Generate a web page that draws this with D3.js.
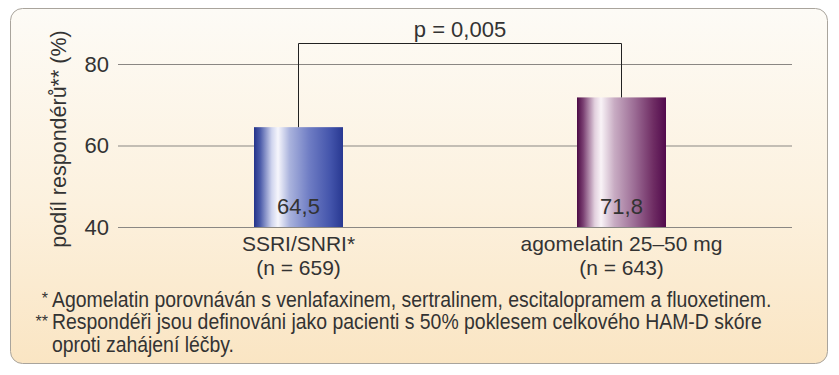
<!DOCTYPE html>
<html>
<head>
<meta charset="utf-8">
<script src="https://cdn.jsdelivr.net/npm/d3@7"></script>
<style>
  body { margin: 0; background: #fff; }
  text { font-family: "Liberation Sans", Arial, sans-serif; fill: #333; }
</style>
</head>
<body>
<div id="chart"></div>
<script>
// Data
var categories = ['SSRI/SNRI*', 'agomelatin 25–50 mg'];
var sampleSizes = ['(n = 659)', '(n = 643)'];
var responders = [64.5, 71.8];
var valueLabels = ['64,5', '71,8'];
var yTicks = [40, 60, 80];
var pValueLabel = 'p = 0,005';
var footnotes = [
  { mark: '*', lines: ['Agomelatin porovnáván s venlafaxinem, sertralinem, escitalopramem a fluoxetinem.'] },
  { mark: '**', lines: ['Respondéři jsou definováni jako pacienti s 50% poklesem celkového HAM-D skóre', 'oproti zahájení léčby.'] }
];

var width = 839, height = 375;

var svg = d3.select('#chart')
  .append('svg')
  .attr('width', width)
  .attr('height', height);

var defs = svg.append('defs');

// Background gradient
var bg = defs.append('linearGradient')
  .attr('id', 'bgGrad')
  .attr('x1', 0).attr('y1', 0).attr('x2', 0).attr('y2', 1);
bg.append('stop').attr('offset', '0%').attr('stop-color', '#fdfbf6');
bg.append('stop').attr('offset', '55%').attr('stop-color', '#fcf1de');
bg.append('stop').attr('offset', '100%').attr('stop-color', '#fae5c3');

// Bar gradients (shiny cylinder look)
var barStops = [
  [['0', '#24338a'], ['0.07', '#4b5ba9'], ['0.2', '#d0d5ee'], ['0.27', '#f6f6fc'], ['0.4', '#aab3dd'], ['0.62', '#6f7dc4'], ['0.86', '#4354ab'], ['1', '#283891']],
  [['0', '#4c0a45'], ['0.07', '#7a4072'], ['0.2', '#e2d0de'], ['0.27', '#f9f3f7'], ['0.42', '#c8acc3'], ['0.65', '#9b6b94'], ['0.86', '#6e2c63'], ['1', '#520a4d']]
];
barStops.forEach(function(stops, i) {
  var g = defs.append('linearGradient')
    .attr('id', 'barGrad' + i)
    .attr('x1', 0).attr('y1', 0).attr('x2', 1).attr('y2', 0);
  stops.forEach(function(s) {
    g.append('stop').attr('offset', s[0]).attr('stop-color', s[1]);
  });
});

// Rounded panel
svg.append('rect')
  .attr('x', 10.5)
  .attr('y', 8.5)
  .attr('width', 817)
  .attr('height', 355)
  .attr('rx', 12)
  .attr('fill', 'url(#bgGrad)')
  .attr('stroke', '#a9a49c')
  .attr('stroke-width', 1);

// Scales
var plotLeft = 118, plotRight = 792;
var y = d3.scaleLinear().domain([40, 80]).range([227, 64]);
var x = d3.scalePoint().domain(categories).range([298.5, 621.5]);
var barWidth = 89;

// Y axis with gridlines
var yAxis = svg.append('g')
  .attr('transform', 'translate(' + plotLeft + ',0)')
  .call(d3.axisLeft(y).tickValues(yTicks).tickSize(-(plotRight - plotLeft)).tickPadding(9));
yAxis.select('.domain').remove();
yAxis.selectAll('.tick line')
  .attr('stroke', '#8a8783')
  .attr('stroke-width', 1);
yAxis.selectAll('.tick text')
  .style('font-family', '"Liberation Sans", Arial, sans-serif')
  .style('font-size', '22px')
  .attr('fill', '#3a3a3a');

// Y title
svg.append('text')
  .attr('transform', 'translate(66,139) rotate(-90)')
  .attr('text-anchor', 'middle')
  .style('font-size', '21.5px')
  .text('podíl respondérů** (%)');

// Bars
svg.selectAll('.bar')
  .data(responders)
  .enter()
  .append('rect')
  .attr('class', 'bar')
  .attr('x', function(d, i) { return x(categories[i]) - barWidth / 2; })
  .attr('y', function(d) { return y(d); })
  .attr('width', barWidth)
  .attr('height', function(d) { return y(40) - y(d); })
  .attr('fill', function(d, i) { return 'url(#barGrad' + i + ')'; });

// Value labels inside bars
svg.selectAll('.val')
  .data(valueLabels)
  .enter()
  .append('text')
  .attr('class', 'val')
  .attr('x', function(d, i) { return x(categories[i]); })
  .attr('y', 214)
  .attr('text-anchor', 'middle')
  .style('font-size', '22px')
  .attr('fill', '#2e2e3a')
  .text(function(d) { return d; });

// Category labels
svg.selectAll('.cat')
  .data(categories)
  .enter()
  .append('text')
  .attr('class', 'cat')
  .attr('x', function(d) { return x(d); })
  .attr('y', 251)
  .attr('text-anchor', 'middle')
  .style('font-size', '21px')
  .text(function(d) { return d; });

svg.selectAll('.nlab')
  .data(sampleSizes)
  .enter()
  .append('text')
  .attr('class', 'nlab')
  .attr('x', function(d, i) { return x(categories[i]); })
  .attr('y', 275)
  .attr('text-anchor', 'middle')
  .style('font-size', '21px')
  .text(function(d) { return d; });

// Significance bracket
var bracketY = 43.5;
var x0 = x(categories[0]), x1 = x(categories[1]);
svg.append('path')
  .attr('d', 'M' + x0 + ',' + y(responders[0]) + 'V' + bracketY + 'H' + x1 + 'V' + y(responders[1]))
  .attr('fill', 'none')
  .attr('stroke', '#222')
  .attr('stroke-width', 1);

svg.append('text')
  .attr('x', (x0 + x1) / 2)
  .attr('y', 37)
  .attr('text-anchor', 'middle')
  .style('font-size', '22px')
  .text(pValueLabel);

// Footnotes - condensed look by squeezing horizontally
var footWidth = 720; // width of the first footnote line in the original
var foot = svg.append('g');
var lineY = 307;
var texts = [];
footnotes.forEach(function(f) {
  svg.append('text')
    .attr('x', 48)
    .attr('y', lineY - 3)
    .attr('text-anchor', 'end')
    .style('font-size', '16px')
    .text(f.mark);
  f.lines.forEach(function(l) {
    texts.push(foot.append('text')
      .attr('x', 0)
      .attr('y', lineY)
      .style('font-size', '21.5px')
      .text(l));
    lineY += 22.5;
  });
});
var squeeze = footWidth / texts[0].node().getComputedTextLength();
foot.attr('transform', 'translate(52,0) scale(' + squeeze + ',1)');
</script>
</body>
</html>
